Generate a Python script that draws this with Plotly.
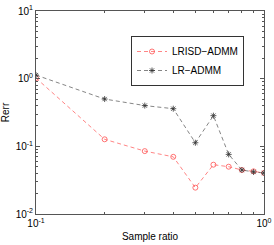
import plotly.graph_objects as go

sample_ratio = [0.1, 0.2, 0.3, 0.4, 0.5, 0.6, 0.7, 0.8, 0.9, 1.0]
lrisd_admm = [1.02, 0.127, 0.085, 0.070, 0.0245, 0.0535, 0.050, 0.0447, 0.0427, 0.0404]
lr_admm = [1.13, 0.50, 0.40, 0.36, 0.113, 0.284, 0.076, 0.0447, 0.0418, 0.0404]

x_tickvals = [0.1, 1]
x_ticktext = ["10<sup>-1</sup>", "10<sup>0</sup>"]
y_tickvals = [0.01, 0.1, 1, 10]
y_ticktext = ["10<sup>-2</sup>", "10<sup>-1</sup>", "10<sup>0</sup>", "10<sup>1</sup>"]

FONT = "Liberation Sans, Arial, sans-serif"
AXC = "#555555"

fig = go.Figure()
fig.add_trace(go.Scatter(
    x=sample_ratio, y=lrisd_admm, name="LRISD\u2212ADMM", mode="lines+markers",
    line=dict(color="#ff5050", width=0.7, dash="4px,3px"),
    marker=dict(symbol="circle-open", size=5, color="#ff5050", line=dict(width=0.8)),
))
fig.add_trace(go.Scatter(
    x=sample_ratio, y=lr_admm, name="LR\u2212ADMM", mode="lines+markers",
    line=dict(color="#333333", width=0.6, dash="4px,3px"),
    marker=dict(symbol="asterisk-open", size=5, color="#333333", line=dict(width=0.8)),
))

axis_common = dict(
    type="log", showgrid=False, zeroline=False, showline=True, linecolor=AXC, linewidth=1,
    mirror="ticks", ticks="inside", ticklen=4, tickcolor=AXC, tickwidth=1, automargin=False,
    tickfont=dict(family=FONT, size=10, color="#000000"),
    minor=dict(ticks="inside", ticklen=2, tickcolor=AXC, tickwidth=1, dtick="D1", showgrid=False),
)
fig.update_xaxes(range=[-1, 0], tickvals=x_tickvals, ticktext=x_ticktext,
                 title=dict(text="Sample ratio", font=dict(family=FONT, size=10, color="#000"), standoff=4),
                 **axis_common)
fig.update_yaxes(range=[-2, 1], tickvals=y_tickvals, ticktext=y_ticktext,
                 title=dict(text="Rerr", font=dict(family=FONT, size=10, color="#000"), standoff=4),
                 **axis_common)

fig.update_layout(
    width=274, height=245,
    margin=dict(l=36, r=10, t=11, b=31),
    paper_bgcolor="white", plot_bgcolor="white",
    font=dict(family=FONT, size=10, color="#000"),
    showlegend=True,
    legend=dict(
        x=(244 - 36) / 228, y=(214 - 36) / 203, xanchor="right", yanchor="top",
        bgcolor="white", bordercolor="#333333", borderwidth=1,
        font=dict(family=FONT, size=10, color="#000"),
        itemwidth=30, tracegroupgap=0,
    ),
)

fig.write_html("out.html", config={"displayModeBar": False},
               post_script="document.body.style.margin='0';")
